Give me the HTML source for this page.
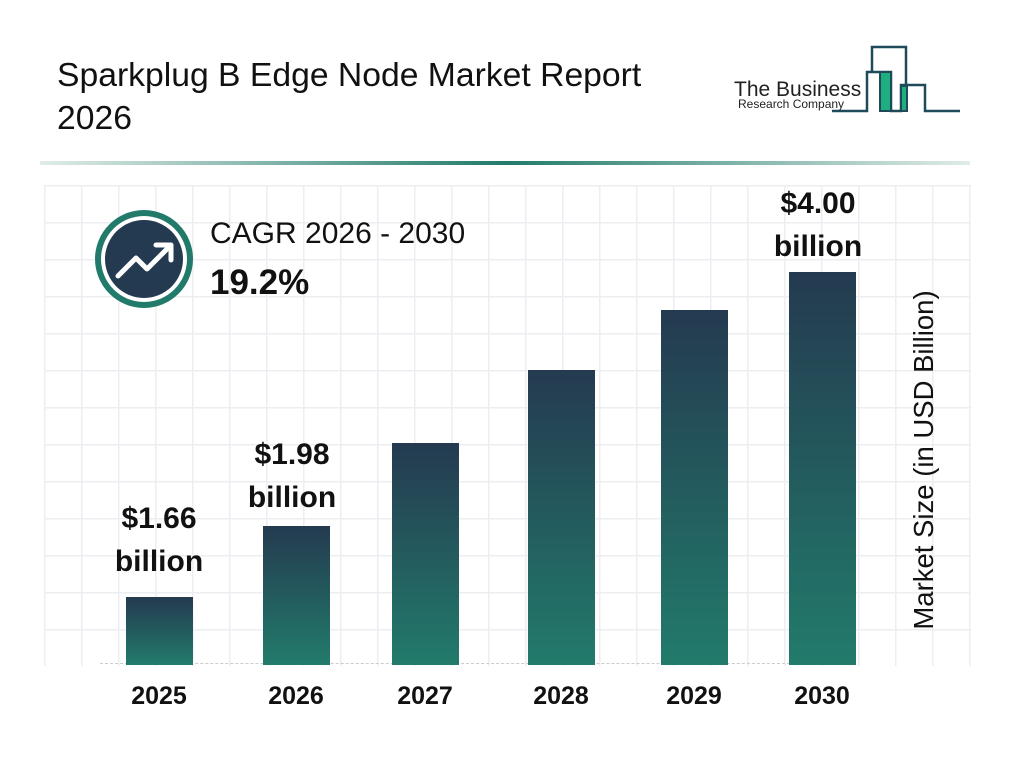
<!DOCTYPE html>
<html><head><style>
body{margin:0;width:1024px;height:768px;background:#fff;position:relative;overflow:hidden;font-family:"Liberation Sans",Arial,sans-serif}
.t{position:absolute;color:#111}
.grid{position:absolute;left:44px;top:185px;width:927px;height:481px;
background-image:linear-gradient(to right,#eceef1 1.5px,transparent 1.5px),linear-gradient(to bottom,#eceef1 1.5px,transparent 1.5px);
background-size:37px 37px;background-position:0 0}
.bar{position:absolute;bottom:103px;width:67px;background:linear-gradient(#243a50,#227b6b)}
.lab{position:absolute;font-weight:bold;font-size:30px;text-align:center;width:160px;line-height:43px;color:#111}
.yr{position:absolute;top:682px;font-weight:bold;font-size:25px;width:100px;text-align:center;color:#111}
</style></head><body>
<div class="t" style="left:57px;top:54px;font-size:33.7px;line-height:43px">Sparkplug B Edge Node Market Report<br>2026</div>
<svg style="position:absolute;left:720px;top:30px" width="260" height="100">
<text x="14" y="66" font-size="21" font-family="Liberation Sans" fill="#222">The Business</text>
<text x="18" y="78" font-size="12" font-family="Liberation Sans" fill="#222">Research Company</text>
<polyline points="112,81 147,81 147,42 171,42 171,81 181,81 181,55 205,55 205,81 240,81" fill="none" stroke="#1e4a5a" stroke-width="2.5"/>
<polyline points="152,42 152,17 186,17 186,55" fill="none" stroke="#1e4a5a" stroke-width="2.5"/>
<rect x="160" y="42" width="11" height="39" fill="#1fae80" stroke="#1e4a5a" stroke-width="2"/>
<rect x="181" y="56" width="6" height="25" fill="#1fae80" stroke="#1e4a5a" stroke-width="2"/>
</svg>
<div style="position:absolute;left:40px;top:161px;width:930px;height:4px;background:linear-gradient(to right,#e0ece8,#227b6b 50%,#e0ece8)"></div>
<div class="grid"></div>
<div style="position:absolute;left:100px;top:663px;width:700px;border-top:1.5px dashed #ccc"></div>
<svg style="position:absolute;left:90px;top:205px" width="110" height="110">
<circle cx="54" cy="54" r="49" fill="#217a6a"/><circle cx="54" cy="54" r="43" fill="#fff"/><circle cx="54" cy="54" r="39" fill="#243a50"/>
<polyline points="28,71 46,53 57,64 80,41" fill="none" stroke="#fff" stroke-width="5" stroke-linecap="round" stroke-linejoin="round"/>
<polyline points="66,40 81,40 81,55" fill="none" stroke="#fff" stroke-width="5" stroke-linecap="round" stroke-linejoin="round"/>
</svg>
<div class="t" style="left:210px;top:217px;font-size:30px">CAGR 2026 - 2030</div>
<div class="t" style="left:210px;top:263px;font-size:35px;font-weight:bold">19.2%</div>
<div class="bar" style="left:126px;height:68px"></div>
<div class="bar" style="left:263px;height:139px"></div>
<div class="bar" style="left:392px;height:222px"></div>
<div class="bar" style="left:528px;height:295px"></div>
<div class="bar" style="left:661px;height:355px"></div>
<div class="bar" style="left:789px;height:393px"></div>
<div class="lab" style="left:79px;top:497px">$1.66<br>billion</div>
<div class="lab" style="left:212px;top:433px">$1.98<br>billion</div>
<div class="lab" style="left:738px;top:182px">$4.00<br>billion</div>
<div class="yr" style="left:109px">2025</div>
<div class="yr" style="left:246px">2026</div>
<div class="yr" style="left:375px">2027</div>
<div class="yr" style="left:511px">2028</div>
<div class="yr" style="left:644px">2029</div>
<div class="yr" style="left:772px">2030</div>
<div class="t" style="left:924px;top:460px;font-size:27.5px;white-space:nowrap;transform:translate(-50%,-50%) rotate(-90deg)">Market Size (in USD Billion)</div>
</body></html>
